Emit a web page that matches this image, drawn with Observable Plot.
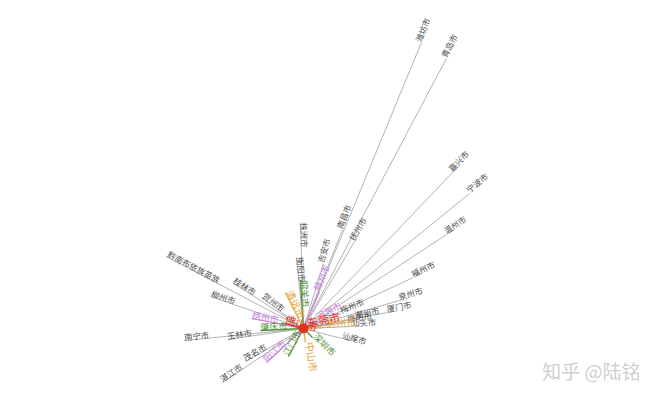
<!DOCTYPE html>
<html>
<head>
<meta charset="utf-8">
<script src="https://cdn.jsdelivr.net/npm/d3@7"></script>
<script src="https://cdn.jsdelivr.net/npm/@observablehq/plot@0.6"></script>
<style>
  html, body { margin: 0; padding: 0; background: #fff; }
  #chart svg { display: block; }
</style>
</head>
<body>
<div id="chart"></div>
<script>
// City names (destinations), bearing in degrees (counter-clockwise from east), flow length value, colour group
const cities = ["潍坊市","青岛市","嘉兴市","宁波市","温州市","福州市","泉州市","厦门市","梅州市","揭阳市","潮州市","汕头市","汕尾市","南昌市","抚州市","吉安市","株洲市","衡阳市","黔南布依族苗族","桂林市","柳州市","贺州市","南宁市","玉林市","湛江市","茂名市","赣州市","河源市","梧州市","阳江市","肇庆市","江门市","韶关市","深圳市","清远市","中山市","惠州市","佛山市","东莞市"];
const bearings = [67.6,62.1,46.3,39.1,33.3,24.9,16.3,10.8,21.5,7.8,10.9,2.4,-14.7,68.5,59.6,72.9,91.6,95.6,152.3,147,161,143.6,185.8,188.2,213.7,209.6,66.6,28,169,222.6,182.7,241.8,93.6,-45,116.6,278,2.7,165,12];
const lengths = [309,305.5,215.7,214,171,121,100,85.5,40.9,44.4,53,48,39.3,106.4,100.8,68,106,71.3,154.8,84.6,98.4,52.2,119.6,76.8,97.3,66.7,40.3,17,53,50.2,43,31.8,48,12.7,40.2,14.1,23,20,5];
const groups = ["gray","gray","gray","gray","gray","gray","gray","gray","gray","gray","gray","gray","gray","gray","gray","gray","gray","gray","gray","gray","gray","gray","gray","gray","gray","gray","purple","purple","purple","purple","green","green","green","green","orange","orange","orange","red","red"];
const origin = ["广州市"];
const watermark = "知乎 @陆铭";

const groupNames = ["gray","purple","green","orange","red"];
const textColors = ["#505050","#c77ddf","#4f8f3a","#e9a53c","#e3321f"];
const lineColors = ["#a0a0a0","#c98be3","#5a9a42","#eab04e","#e3321f"];
const fontSizes = ["8.3px","9px","9px","10px","11px"];

const rows = cities.map((name, i) => {
  const a = bearings[i] * Math.PI / 180;
  const x = lengths[i] * Math.cos(a);
  const y = lengths[i] * Math.sin(a);
  const screen = -bearings[i];
  const left = Math.cos(a) < -0.02;
  return {name, x, y, group: groups[i], rotate: left ? screen + 180 : screen};
});

const W = 658, H = 397;
const chart = Plot.plot({
  width: W,
  height: H,
  margin: 0,
  x: {domain: [-303, 355], axis: null},
  y: {domain: [-69, 328], axis: null},
  marks: [
    Plot.link(rows, {
      x1: () => 0, y1: () => 0, x2: "x", y2: "y",
      stroke: d => lineColors[groupNames.indexOf(d.group)],
      strokeWidth: d => d.group === "gray" ? 0.8 : 1.4
    }),
    Plot.dot(origin, {x: () => 0, y: () => 0, r: 5, fill: "#e3321f"}),
    ...groupNames.map((g, gi) => Plot.text(rows.filter(d => d.group === g), {
      x: "x", y: "y", text: "name", rotate: "rotate",
      textAnchor: "start", lineAnchor: "bottom",
      fill: textColors[gi], fontSize: fontSizes[gi],
      fontFamily: "Noto Sans CJK SC"
    })),
    Plot.text([watermark], {
      frameAnchor: "bottom-right", dx: -18, dy: -19, lineAnchor: "bottom",
      fill: "#cfcfcf", fontSize: 19, fontFamily: "Noto Sans CJK SC"
    })
  ]
});
document.getElementById("chart").appendChild(chart);
</script>
</body>
</html>
